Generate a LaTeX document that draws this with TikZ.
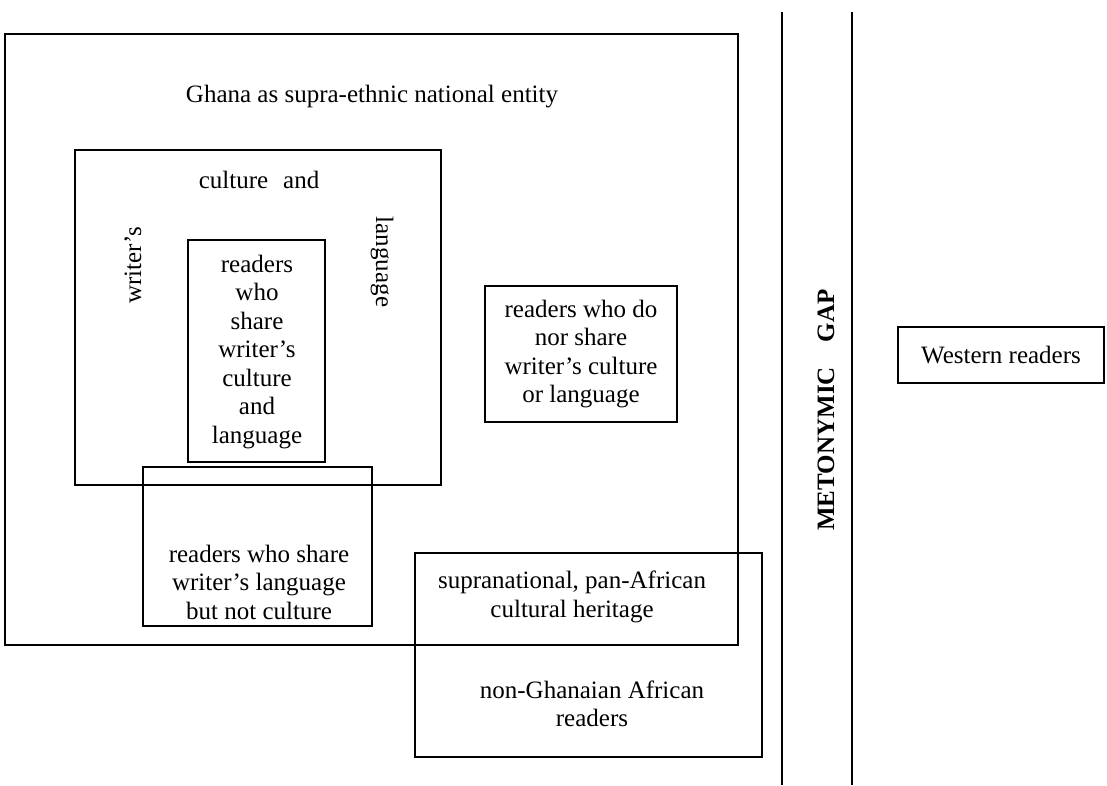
\documentclass[tikz,border=0pt]{standalone}
\usepackage{fontspec}
\setmainfont{Liberation Serif}
\usetikzlibrary{positioning}

\begin{document}
\begin{tikzpicture}[x=1pt, y=-1pt, line width=1.3pt,
  box/.style={draw, rectangle, inner sep=0pt},
  lbl/.style={align=center, inner sep=0pt, font=\fontsize{25}{28.5}\selectfont}]
                \useasboundingbox (0,0) rectangle (1107,785);
                % boxes
                \node[box, minimum width=733pt, minimum height=611pt] (ghana) at (371.5,339.5) {};
                \node[box, minimum width=366pt, minimum height=335pt] (writer) at (258,317.5) {};
                \node[box, minimum width=137pt, minimum height=222pt] (core) at (256.5,351) {};
                \node[box, minimum width=229pt, minimum height=159pt] (langonly) at (257.5,546.5) {};
                \node[box, minimum width=192pt, minimum height=136pt] (noshare) at (581,354) {};
                \node[box, minimum width=347pt, minimum height=204pt] (african) at (588.5,655) {};
                \node[box, minimum width=206pt, minimum height=56pt] (western) at (1001,355) {};
                % the gap
                \coordinate (gapLtop) at (782,12);
                \coordinate (gapLbot) at (782,785);
                \coordinate (gapRtop) at (852,12);
                \coordinate (gapRbot) at (852,785);
                \draw (gapLtop) -- (gapLbot);
                \draw (gapRtop) -- (gapRbot);
                % texts
                \node[lbl] (ghanaT) at (372,97) {Ghana as supra-ethnic national entity};
                \node[lbl] (cultT) at (259,180) {culture\hspace{0.6em}and};
                \node[lbl, rotate=90] (writT) at (133,265) {writer’s};
                \node[lbl, rotate=-90] (langT) at (382,262) {language};
                \node[lbl] (coreT) at (257,352) {readers\\who\\share\\writer’s\\culture\\and\\language};
                \node[lbl] (langonlyT) at (259,582) {readers who share\\writer’s language\\but not culture};
                \node[lbl] (noshareT) at (581,354) {readers who do\\nor share\\writer’s culture\\or language};
                \node[lbl] (heritT) at (572,597) {supranational, pan-African\\cultural heritage};
                \node[lbl] (afrT) at (592,704) {non-Ghanaian African\\readers};
                \node[lbl, rotate=90, font=\fontsize{25}{28.5}\selectfont\bfseries] (gapT) at (826,410) {METONYMIC\hspace{1em}GAP};
                \node[lbl] (westT) at (western) {Western readers};
              \end{tikzpicture}
\end{document}
